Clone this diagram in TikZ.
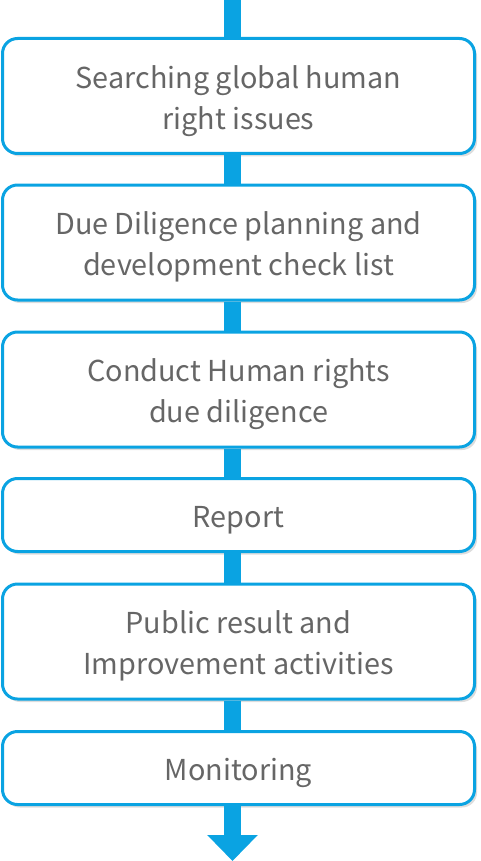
\documentclass[tikz,border=0pt]{standalone}
\usepackage{fontspec}
\setmainfont{Noto Sans CJK KR}
\usetikzlibrary{arrows.meta,shadows}
\definecolor{flowblue}{HTML}{0AA3E2}
\definecolor{txtgrey}{HTML}{666666}
\definecolor{shadowgrey}{HTML}{DDDDDD}
\newcommand\steplbl[1]{\raisebox{-4.5pt}[\height][\depth]{\begin{tabular}{@{}c@{}}#1\end{tabular}}}
\tikzset{
  stepbox/.style={draw=flowblue, line width=3pt, fill=white, rounded corners=15pt,
    minimum width=472pt, inner sep=0pt, align=center, text=txtgrey,
    font=\fontsize{28.8}{41}\selectfont,
    general shadow={fill=shadowgrey, shadow xshift=2.5pt, shadow yshift=-3pt}},
  tall/.style={minimum height=115pt},
  short/.style={minimum height=73pt},
  conn/.style={draw=flowblue, line width=17pt},
}
\begin{document}
\begin{tikzpicture}[x=1pt,y=1pt]
\useasboundingbox (0,0) rectangle (480,-861);
\coordinate (top) at (232.5,0);
\coordinate (tip) at (232.5,-861);
\path (238.5,-96) node[stepbox,tall] (b1) {\steplbl{Searching global human\\right issues}};
\path (238.5,-242.5) node[stepbox,tall] (b2) {\steplbl{Due Diligence planning and\\development check list}};
\path (238.5,-389.5) node[stepbox,tall] (b3) {\steplbl{Conduct Human rights\\due diligence}};
\path (238.5,-515) node[stepbox,short] (b4) {\steplbl{Report}};
\path (238.5,-641.5) node[stepbox,tall] (b5) {\steplbl{Public result and\\Improvement activities}};
\path (238.5,-768) node[stepbox,short] (b6) {\steplbl{Monitoring}};
\draw[conn] (top) -- (b1.north -| top);
\draw[conn] (b1.south -| top) -- (b2.north -| top);
\draw[conn] (b2.south -| top) -- (b3.north -| top);
\draw[conn] (b3.south -| top) -- (b4.north -| top);
\draw[conn] (b4.south -| top) -- (b5.north -| top);
\draw[conn] (b5.south -| top) -- (b6.north -| top);
\draw[conn, -{Triangle[length=26pt,width=49pt]}] (b6.south -| top) -- (tip);
\end{tikzpicture}
\end{document}
